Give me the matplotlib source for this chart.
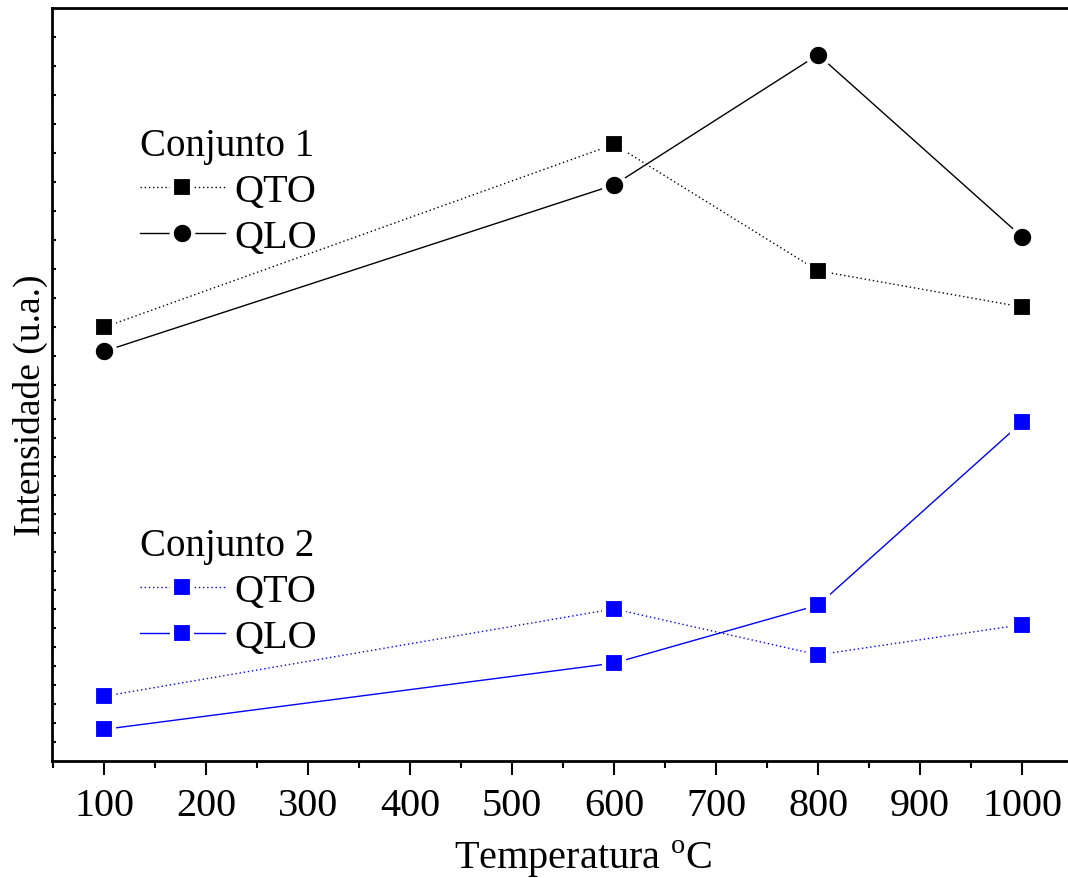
import numpy as np
import matplotlib
matplotlib.use('Agg')
import matplotlib.pyplot as plt

plt.rcParams['font.family'] = ['Liberation Serif', 'DejaVu Serif']
plt.rcParams['mathtext.fontset'] = 'custom'
plt.rcParams['mathtext.rm'] = 'Liberation Serif'

# data (intensity in arbitrary units)
temperatura = [100, 600, 800, 1000]
qto_1 = [57.6, 81.9, 65.1, 60.3]
qlo_1 = [54.4, 76.5, 93.8, 69.6]
qto_2 = [8.6, 20.2, 14.1, 18.1]
qlo_2 = [4.2, 13.0, 20.7, 45.0]

fig = plt.figure(figsize=(10.68, 8.79), dpi=100)
ax = fig.add_axes([52 / 1068, 117 / 879, 1016 / 1068, 753 / 879])

FS = 29
blue = '#0000ff'

def serie(y, color, ls, marker, ms):
    # white edge on the marker leaves a small gap in the line, like Origin does
    return ax.plot(temperatura, y, color=color, ls=ls, lw=1.0,
                   marker=marker, ms=ms + 3, mfc=color, mec='white', mew=3)[0]

dotted = (0, (1, 2))
h1 = serie(qto_1, 'black', dotted, 's', 11.5)
h2 = serie(qlo_1, 'black', '-', 'o', 12.5)
h3 = serie(qto_2, blue, dotted, 's', 12)
h4 = serie(qlo_2, blue, '-', 's', 12)

ax.set_xlim(49, 1045)
ax.set_ylim(0, 100)
ax.set_xticks(np.arange(100, 1001, 100))
ax.set_xticks(np.arange(50, 1001, 100), minor=True)

# left axis: only small inward ticks, spacing differs between the two layers
px = 753 / 100
low = [19 * k / px for k in range(1, 20)]
high = [100 - 29 * k / px for k in range(1, 14)]
ax.set_yticks(low + high)
ax.set_yticklabels([])

ax.tick_params(axis='x', which='major', direction='out', length=10, width=1.5,
               labelsize=FS, pad=9, top=False)
ax.tick_params(axis='x', which='minor', direction='out', length=5, width=1.5, top=False)
ax.tick_params(axis='y', which='major', direction='in', length=3, width=1.5, right=False)

for s in ['left', 'bottom', 'top']:
    ax.spines[s].set_linewidth(2)
ax.spines['right'].set_visible(False)

ax.set_xlabel('Temperatura $^{\\rm o}$C', fontsize=FS, labelpad=9)
ax.xaxis.label.set_x((583 - 52) / 1016)
ax.set_ylabel('Intensidade (u.a.)', fontsize=27)
ax.yaxis.set_label_coords(-4 / 1016, (762 - 405) / 753)

leg_kw = dict(frameon=False, fontsize=29, title_fontsize=28, alignment='left',
              handlelength=2.1, handletextpad=0.25, labelspacing=0.22,
              borderpad=0, borderaxespad=0, loc='upper left',
              bbox_transform=fig.transFigure)
leg1 = ax.legend([h1, h2], ['QTO', 'QLO'], title='Conjunto 1',
                 bbox_to_anchor=(140 / 1068, 1 - 128 / 879), **leg_kw)
ax.add_artist(leg1)
leg2 = ax.legend([h3, h4], ['QTO', 'QLO'], title='Conjunto 2',
                 bbox_to_anchor=(140 / 1068, 1 - 528 / 879), **leg_kw)

fig.savefig('out.png', dpi=100)
